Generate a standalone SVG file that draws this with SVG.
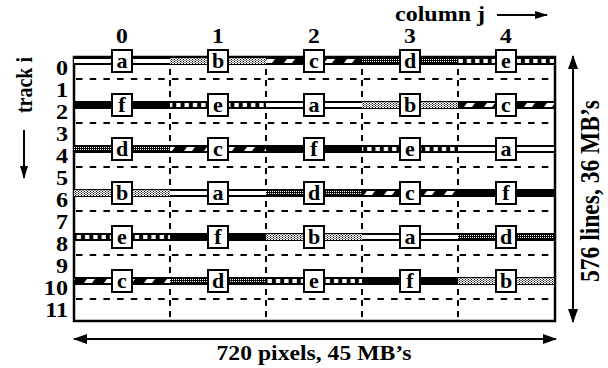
<svg xmlns="http://www.w3.org/2000/svg" width="608" height="368" viewBox="0 0 608 368">
<style>
text{font-family:"Liberation Serif","Times New Roman",serif;font-weight:bold;fill:#000}
.lbl{font-size:20px}
.trk{font-size:21px}
.big{font-size:22px}
.let{font-size:22px;text-anchor:middle}
.box{fill:#fff;stroke:#000;stroke-width:2}
.hd{stroke:#000;stroke-width:2;stroke-dasharray:6.5 7.2;fill:none}
.vd{stroke:#000;stroke-width:2;stroke-dasharray:6 5;fill:none}
.arr{stroke:#000;stroke-width:2;fill:none}
</style>
<defs>
<marker id="ah" viewBox="0 0 14 10" refX="13" refY="5" markerWidth="14" markerHeight="10" markerUnits="userSpaceOnUse" orient="auto-start-reverse">
<path d="M0,0 L14,5 L0,10 z" fill="#000"/>
</marker>
<marker id="ahs" viewBox="0 0 13 8" refX="12" refY="4" markerWidth="13" markerHeight="8" markerUnits="userSpaceOnUse" orient="auto">
<path d="M0,0 L13,4 L0,8 z" fill="#000"/>
</marker>
<pattern id="pa" patternUnits="userSpaceOnUse" x="0" y="57" width="10" height="44">
<rect x="0" y="0" width="10" height="8" fill="#000"/>
<rect x="0" y="2" width="10" height="4" fill="#fff"/>
</pattern>
<pattern id="dl" patternUnits="userSpaceOnUse" x="0" y="0" width="3" height="2">
<rect width="3" height="2" fill="#fff"/>
<rect x="0" y="0" width="1" height="1" fill="#000"/>
<rect x="1.5" y="1" width="1" height="1" fill="#000"/>
</pattern>
<pattern id="pb" patternUnits="userSpaceOnUse" x="0" y="57" width="12" height="44">
<rect x="0" y="0" width="12" height="8" fill="url(#dl)"/>
<rect x="0" y="0" width="12" height="1" fill="#000"/>
<rect x="0" y="7" width="12" height="1" fill="#000"/>
</pattern>
<pattern id="pc" patternUnits="userSpaceOnUse" x="0" y="57" width="20" height="44">
<rect x="0" y="0" width="20" height="8" fill="#000"/>
<polygon points="7,2 15,2 12,6 4,6" fill="#fff"/>
</pattern>
<pattern id="dd" patternUnits="userSpaceOnUse" x="0" y="0" width="2" height="2">
<rect width="2" height="2" fill="#000"/>
<rect x="0" y="0" width="1" height="1" fill="#fff"/>
</pattern>
<pattern id="pd" patternUnits="userSpaceOnUse" x="0" y="57" width="12" height="44">
<rect x="0" y="0" width="12" height="8" fill="#000"/>
<rect x="0" y="2" width="12" height="4" fill="url(#dd)"/>
</pattern>
<pattern id="pe" patternUnits="userSpaceOnUse" x="0" y="57" width="8.3" height="44">
<rect x="0" y="0" width="8.3" height="8" fill="#000"/>
<rect x="2" y="2" width="4.3" height="4" fill="#fff"/>
</pattern>
</defs>

<g id="grid">
<rect x="74" y="57" width="481" height="264" fill="#fff" stroke="#000" stroke-width="2.5"/>
<path class="hd" d="M76,79H554M76,123H554M76,167H554M76,211H554M76,255H554M76,299H554"/>
<path class="vd" d="M170,58V320M266,58V320M362,58V320M458,58V320"/>
</g>

<g id="connectors">
<rect x="74" y="57" width="96" height="8" fill="url(#pa)"/>
<rect x="170" y="57" width="96" height="8" fill="url(#pb)"/>
<rect x="266" y="57" width="96" height="8" fill="url(#pc)"/>
<rect x="362" y="57" width="96" height="8" fill="url(#pd)"/>
<rect x="458" y="57" width="96" height="8" fill="url(#pe)"/>

<rect x="74" y="101" width="96" height="8" fill="#000"/>
<rect x="170" y="101" width="96" height="8" fill="url(#pe)"/>
<rect x="266" y="101" width="96" height="8" fill="url(#pa)"/>
<rect x="362" y="101" width="96" height="8" fill="url(#pb)"/>
<rect x="458" y="101" width="96" height="8" fill="url(#pc)"/>

<rect x="74" y="145" width="96" height="8" fill="url(#pd)"/>
<rect x="170" y="145" width="96" height="8" fill="url(#pc)"/>
<rect x="266" y="145" width="96" height="8" fill="#000"/>
<rect x="362" y="145" width="96" height="8" fill="url(#pe)"/>
<rect x="458" y="145" width="96" height="8" fill="url(#pa)"/>

<rect x="74" y="189" width="96" height="8" fill="url(#pb)"/>
<rect x="170" y="189" width="96" height="8" fill="url(#pa)"/>
<rect x="266" y="189" width="96" height="8" fill="url(#pd)"/>
<rect x="362" y="189" width="96" height="8" fill="url(#pc)"/>
<rect x="458" y="189" width="96" height="8" fill="#000"/>

<rect x="74" y="233" width="96" height="8" fill="url(#pe)"/>
<rect x="170" y="233" width="96" height="8" fill="#000"/>
<rect x="266" y="233" width="96" height="8" fill="url(#pb)"/>
<rect x="362" y="233" width="96" height="8" fill="url(#pa)"/>
<rect x="458" y="233" width="96" height="8" fill="url(#pd)"/>

<rect x="74" y="277" width="96" height="8" fill="url(#pc)"/>
<rect x="170" y="277" width="96" height="8" fill="url(#pd)"/>
<rect x="266" y="277" width="96" height="8" fill="url(#pe)"/>
<rect x="362" y="277" width="96" height="8" fill="#000"/>
<rect x="458" y="277" width="96" height="8" fill="url(#pb)"/>
</g>

<g id="n-r0c0"><rect class="box" x="112" y="50" width="20" height="22"/><text class="let" x="122" y="67.5">a</text></g>
<g id="n-r0c1"><rect class="box" x="208" y="50" width="20" height="22"/><text class="let" x="218" y="67.5">b</text></g>
<g id="n-r0c2"><rect class="box" x="304" y="50" width="20" height="22"/><text class="let" x="314" y="67.5">c</text></g>
<g id="n-r0c3"><rect class="box" x="400" y="50" width="20" height="22"/><text class="let" x="410" y="67.5">d</text></g>
<g id="n-r0c4"><rect class="box" x="496" y="50" width="20" height="22"/><text class="let" x="506" y="67.5">e</text></g>

<g id="n-r2c0"><rect class="box" x="112" y="94" width="20" height="22"/><text class="let" x="122" y="111.5">f</text></g>
<g id="n-r2c1"><rect class="box" x="208" y="94" width="20" height="22"/><text class="let" x="218" y="111.5">e</text></g>
<g id="n-r2c2"><rect class="box" x="304" y="94" width="20" height="22"/><text class="let" x="314" y="111.5">a</text></g>
<g id="n-r2c3"><rect class="box" x="400" y="94" width="20" height="22"/><text class="let" x="410" y="111.5">b</text></g>
<g id="n-r2c4"><rect class="box" x="496" y="94" width="20" height="22"/><text class="let" x="506" y="111.5">c</text></g>

<g id="n-r4c0"><rect class="box" x="112" y="138" width="20" height="22"/><text class="let" x="122" y="155.5">d</text></g>
<g id="n-r4c1"><rect class="box" x="208" y="138" width="20" height="22"/><text class="let" x="218" y="155.5">c</text></g>
<g id="n-r4c2"><rect class="box" x="304" y="138" width="20" height="22"/><text class="let" x="314" y="155.5">f</text></g>
<g id="n-r4c3"><rect class="box" x="400" y="138" width="20" height="22"/><text class="let" x="410" y="155.5">e</text></g>
<g id="n-r4c4"><rect class="box" x="496" y="138" width="20" height="22"/><text class="let" x="506" y="155.5">a</text></g>

<g id="n-r6c0"><rect class="box" x="112" y="182" width="20" height="22"/><text class="let" x="122" y="199.5">b</text></g>
<g id="n-r6c1"><rect class="box" x="208" y="182" width="20" height="22"/><text class="let" x="218" y="199.5">a</text></g>
<g id="n-r6c2"><rect class="box" x="304" y="182" width="20" height="22"/><text class="let" x="314" y="199.5">d</text></g>
<g id="n-r6c3"><rect class="box" x="400" y="182" width="20" height="22"/><text class="let" x="410" y="199.5">c</text></g>
<g id="n-r6c4"><rect class="box" x="496" y="182" width="20" height="22"/><text class="let" x="506" y="199.5">f</text></g>

<g id="n-r8c0"><rect class="box" x="112" y="226" width="20" height="22"/><text class="let" x="122" y="243.5">e</text></g>
<g id="n-r8c1"><rect class="box" x="208" y="226" width="20" height="22"/><text class="let" x="218" y="243.5">f</text></g>
<g id="n-r8c2"><rect class="box" x="304" y="226" width="20" height="22"/><text class="let" x="314" y="243.5">b</text></g>
<g id="n-r8c3"><rect class="box" x="400" y="226" width="20" height="22"/><text class="let" x="410" y="243.5">a</text></g>
<g id="n-r8c4"><rect class="box" x="496" y="226" width="20" height="22"/><text class="let" x="506" y="243.5">d</text></g>

<g id="n-r10c0"><rect class="box" x="112" y="270" width="20" height="22"/><text class="let" x="122" y="287.5">c</text></g>
<g id="n-r10c1"><rect class="box" x="208" y="270" width="20" height="22"/><text class="let" x="218" y="287.5">d</text></g>
<g id="n-r10c2"><rect class="box" x="304" y="270" width="20" height="22"/><text class="let" x="314" y="287.5">e</text></g>
<g id="n-r10c3"><rect class="box" x="400" y="270" width="20" height="22"/><text class="let" x="410" y="287.5">f</text></g>
<g id="n-r10c4"><rect class="box" x="496" y="270" width="20" height="22"/><text class="let" x="506" y="287.5">b</text></g>

<g id="col-labels" class="lbl" text-anchor="middle" transform="scale(1.18,1)">
<text x="103.39" y="43.5">0</text><text x="184.75" y="43.5">1</text><text x="266.1" y="43.5">2</text><text x="347.46" y="43.5">3</text><text x="428.81" y="43.5">4</text>
</g>
<g id="track-labels" class="trk" text-anchor="end" transform="scale(1.15,1)">
<text x="59.13" y="75.5">0</text><text x="59.13" y="97.5">1</text><text x="59.13" y="119.5">2</text><text x="59.13" y="141.5">3</text>
<text x="59.13" y="163.5">4</text><text x="59.13" y="185.5">5</text><text x="59.13" y="207.5">6</text><text x="59.13" y="229.5">7</text>
<text x="59.13" y="251.5">8</text><text x="59.13" y="273.5">9</text><text x="59.13" y="295.5">10</text><text x="59.13" y="317.5">11</text>
</g>

<g id="axis-column">
<text class="lbl" x="395" y="21" textLength="90" lengthAdjust="spacingAndGlyphs">column j</text>
<line class="arr" x1="497" y1="15" x2="547" y2="15" marker-end="url(#ahs)"/>
</g>
<g id="axis-track">
<text class="lbl" transform="translate(32,85) scale(1.2,1) rotate(-90)" text-anchor="middle">track i</text>
<line class="arr" x1="24" y1="130" x2="24" y2="178" marker-end="url(#ahs)"/>
</g>
<g id="dim-width">
<line class="arr" x1="74" y1="339" x2="556" y2="339" marker-start="url(#ah)" marker-end="url(#ah)"/>
<text class="big" x="314" y="360" text-anchor="middle" textLength="195" lengthAdjust="spacingAndGlyphs">720 pixels, 45 MB’s</text>
</g>
<g id="dim-height">
<line class="arr" x1="573" y1="56" x2="573" y2="322" marker-start="url(#ah)" marker-end="url(#ah)"/>
<text class="big" transform="translate(599,191) scale(1.2,1) rotate(-90)" text-anchor="middle" textLength="182" lengthAdjust="spacingAndGlyphs">576 lines, 36 MB’s</text>
</g>
</svg>
